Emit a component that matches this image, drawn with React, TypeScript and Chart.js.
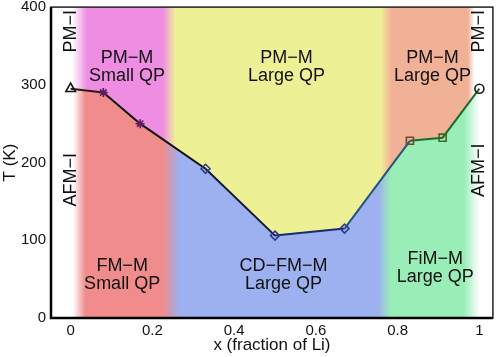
import { useEffect, useRef } from "react";
import { Chart, registerables } from "chart.js";

Chart.register(...registerables);

// ---- data ----
const liFraction = [0, 0.08, 0.17, 0.33, 0.5, 0.67, 0.83, 0.91, 1];
const transitionT = [295, 290, 250, 192, 106, 115, 228, 232, 295];
const xTickValues = [0, 0.2, 0.4, 0.6, 0.8, 1];
const yTickValues = [0, 100, 200, 300, 400];

// phase colour bands along x (above / below the transition line)
const upperBandX = [0.004, 0.04, 0.226, 0.256, 0.758, 0.785, 0.972, 0.988];
const upperBandColors = ["#ffffff", "#ee8de2", "#ee8de2", "#eef096", "#eef096", "#f1b196", "#f1b196", "#ffffff"];
const lowerBandX = [0.006, 0.036, 0.226, 0.266, 0.752, 0.784, 0.962, 1.0];
const lowerBandColors = ["#ffffff", "#f08c8c", "#f08c8c", "#9db0ef", "#9db0ef", "#98eeb6", "#98eeb6", "#ffffff"];

// marker styles per point
const markerStyles = ["triangle", "star", "star", "rectRot", "rectRot", "rectRot", "rect", "rect", "circle"];
const markerColors = ["#111111", "#5a1c5e", "#5a1c5e", "#2c3c8e", "#2c3c8e", "#2c3c8e", "#6e4a26", "#3e6a2a", "#1a1a1a"];
const markerRadius = [5.5, 4.5, 4.5, 4.5, 4.5, 4.5, 5, 5, 4.5];
const segmentColors = ["#2a1a1a", "#111111", "#111111", "#14183a", "#1a2a6a", "#24557a", "#1e6b2e", "#1e6b2e"];

// phase labels (data coordinates)
const phaseLabels = [
  { x: 0.138, y: 323, lines: ["PM\u2212M", "Small QP"] },
  { x: 0.528, y: 323, lines: ["PM\u2212M", "Large QP"] },
  { x: 0.885, y: 323, lines: ["PM\u2212M", "Large QP"] },
  { x: 0.126, y: 55, lines: ["FM\u2212M", "Small QP"] },
  { x: 0.521, y: 55, lines: ["CD\u2212FM\u2212M", "Large QP"] },
  { x: 0.892, y: 64, lines: ["FiM\u2212M", "Large QP"] },
];
const sideLabels = [
  { x: 0.0, y: 369, text: "PM\u2212I" },
  { x: 0.0, y: 178, text: "AFM\u2212I" },
  { x: 1.0, y: 369, text: "PM\u2212I" },
  { x: 1.0, y: 190, text: "AFM\u2212I" },
];

const FONT = "'Liberation Sans', Arial, Helvetica, sans-serif";

function bandGradient(chart: any, xs: number[], colors: string[]) {
  const { chartArea, scales } = chart;
  if (!chartArea) return colors[1];
  const g = chart.ctx.createLinearGradient(chartArea.left, 0, chartArea.right, 0);
  const w = chartArea.right - chartArea.left;
  xs.forEach((v, i) => {
    const f = (scales.x.getPixelForValue(v) - chartArea.left) / w;
    g.addColorStop(Math.min(1, Math.max(0, f)), colors[i]);
  });
  return g;
}

const labelsPlugin = {
  id: "phaseLabels",
  afterDatasetsDraw(chart: any) {
    const { ctx, scales } = chart;
    ctx.save();
    ctx.fillStyle = "#111";
    ctx.font = `18px ${FONT}`;
    ctx.textAlign = "center";
    ctx.textBaseline = "middle";
    const lh = 18.5;
    phaseLabels.forEach((l) => {
      const px = scales.x.getPixelForValue(l.x);
      const py = scales.y.getPixelForValue(l.y);
      const n = l.lines.length;
      l.lines.forEach((t, i) => {
        ctx.fillText(t, px, py + (i - (n - 1) / 2) * lh);
      });
    });
    sideLabels.forEach((l) => {
      const px = scales.x.getPixelForValue(l.x);
      const py = scales.y.getPixelForValue(l.y);
      ctx.save();
      ctx.translate(px, py);
      ctx.rotate(-Math.PI / 2);
      ctx.fillText(l.text, 0, 0);
      ctx.restore();
    });
    ctx.restore();
  },
  afterDraw(chart: any) {
    const { ctx, chartArea } = chart;
    ctx.save();
    ctx.strokeStyle = "#222";
    ctx.lineWidth = 1.5;
    ctx.strokeRect(chartArea.left, chartArea.top, chartArea.right - chartArea.left, chartArea.bottom - chartArea.top);
    ctx.lineWidth = 2.5;
    ctx.strokeStyle = "#000";
    ctx.beginPath();
    ctx.moveTo(chartArea.left, chartArea.top);
    ctx.lineTo(chartArea.left, chartArea.bottom);
    ctx.lineTo(chartArea.right, chartArea.bottom);
    ctx.stroke();
    ctx.restore();
  },
};

export default function App() {
  const ref = useRef<HTMLCanvasElement | null>(null);
  useEffect(() => {
    if (!ref.current) return;
    const pts = liFraction.map((x, i) => ({ x, y: transitionT[i] }));
    const chart = new Chart(ref.current, {
      type: "line",
      data: {
        datasets: [
          {
            data: pts,
            fill: "end",
            order: 2,
            backgroundColor: (c: any) => bandGradient(c.chart, upperBandX, upperBandColors),
            borderWidth: 0,
            pointRadius: 0,
            tension: 0,
          },
          {
            data: pts,
            fill: "origin",
            order: 1,
            backgroundColor: (c: any) => bandGradient(c.chart, lowerBandX, lowerBandColors),
            borderWidth: 0,
            pointRadius: 0,
            tension: 0,
          },
          {
            data: pts,
            fill: false,
            order: 0,
            borderWidth: 2,
            borderColor: "#111",
            segment: {
              borderColor: (c: any) => segmentColors[c.p0DataIndex],
            },
            pointStyle: markerStyles as any,
            pointRadius: markerRadius,
            pointBorderColor: markerColors,
            pointBackgroundColor: "rgba(0,0,0,0)",
            pointBorderWidth: 1.6,
            tension: 0,
          },
        ],
      },
      options: {
        responsive: false,
        animation: false,
        layout: { padding: { left: 0, top: 6, right: 4, bottom: 0 } },
        plugins: { legend: { display: false }, tooltip: { enabled: false } },
        scales: {
          x: {
            type: "linear",
            min: -0.048,
            max: 1.033,
            grid: { display: false, drawTicks: false },
            border: { display: false },
            afterBuildTicks: (s: any) => {
              s.ticks = xTickValues.map((v) => ({ value: v }));
            },
            afterFit: (s: any) => {
              s.height = 39;
              s.paddingLeft = 0;
              s.paddingRight = 0;
            },
            ticks: {
              color: "#111",
              font: { family: FONT, size: 15 },
              padding: 4,
              maxRotation: 0,
              callback: (v: any) => String(Number(v)),
            },
            title: {
              display: true,
              text: "x (fraction of Li)",
              color: "#111",
              font: { family: FONT, size: 17 },
              padding: { top: 0, bottom: 1 },
            },
          },
          y: {
            min: 0,
            max: 400,
            grid: { display: false, drawTicks: false },
            border: { display: false },
            afterBuildTicks: (s: any) => {
              s.ticks = yTickValues.map((v) => ({ value: v }));
            },
            afterFit: (s: any) => {
              s.width = 51;
              s.paddingTop = 0;
              s.paddingBottom = 0;
            },
            ticks: {
              color: "#111",
              font: { family: FONT, size: 15 },
              padding: 5,
            },
            title: {
              display: true,
              text: "T (K)",
              color: "#111",
              font: { family: FONT, size: 17 },
              padding: { top: 0, bottom: 0 },
            },
          },
        },
      },
      plugins: [labelsPlugin],
    });
    return () => chart.destroy();
  }, []);
  return (
    <div style={{ position: "fixed", left: 0, top: 0, width: 500, height: 357, background: "#fff" }}>
      <canvas ref={ref} width={500} height={357} style={{ display: "block" }} />
    </div>
  );
}
